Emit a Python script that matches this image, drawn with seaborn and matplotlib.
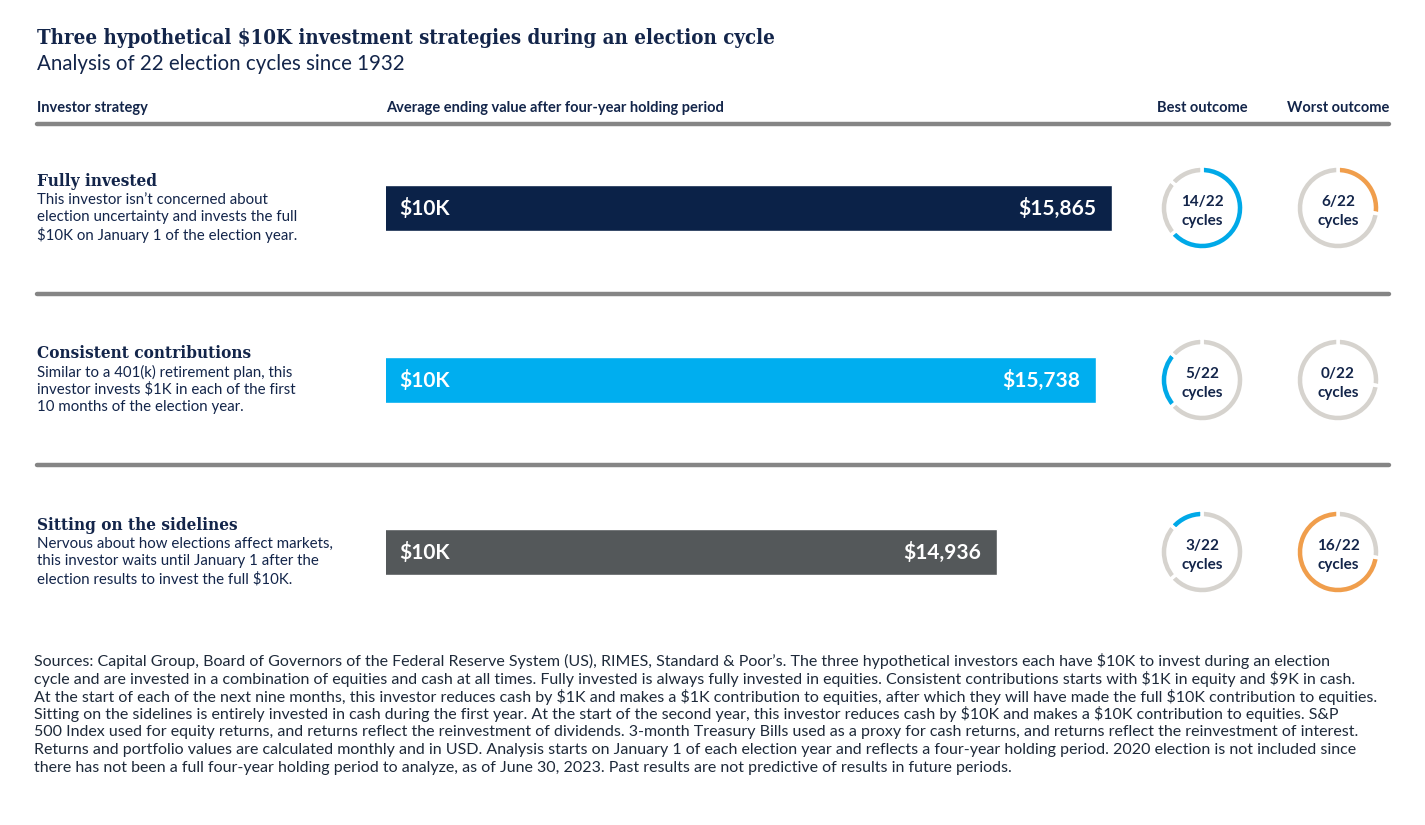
import matplotlib
matplotlib.use("Agg")
import matplotlib.pyplot as plt
import seaborn as sns
import pandas as pd

sns.set_theme(style="white")
plt.rcParams['text.parse_math'] = False
plt.rcParams['font.family'] = ['Lato', 'DejaVu Sans']

# data
strategies = ["Fully invested", "Consistent contributions", "Sitting on the sidelines"]
descriptions = [
    ["This investor isn’t concerned about", "election uncertainty and invests the full",
     "$10K on January 1 of the election year."],
    ["Similar to a 401(k) retirement plan, this", "investor invests $1K in each of the first",
     "10 months of the election year."],
    ["Nervous about how elections affect markets,", "this investor waits until January 1 after the",
     "election results to invest the full $10K."],
]
ending_values = [15865, 15738, 14936]
start_value = 10000
best_cycles = [14, 5, 3]
worst_cycles = [6, 0, 16]
total_cycles = 22

bar_colors = ["#0B2248", "#00AEEF", "#54585A"]
NAVY = "#13254A"
BLUE = "#00A9E8"
ORANGE = "#F09E4C"
RING = "#D6D3CE"
RULE = "#858585"

footnote = [
    "Sources: Capital Group, Board of Governors of the Federal Reserve System (US), RIMES, Standard & Poor’s. The three hypothetical investors each have $10K to invest during an election",
    "cycle and are invested in a combination of equities and cash at all times. Fully invested is always fully invested in equities. Consistent contributions starts with $1K in equity and $9K in cash.",
    "At the start of each of the next nine months, this investor reduces cash by $1K and makes a $1K contribution to equities, after which they will have made the full $10K contribution to equities.",
    "Sitting on the sidelines is entirely invested in cash during the first year. At the start of the second year, this investor reduces cash by $10K and makes a $10K contribution to equities. S&P",
    "500 Index used for equity returns, and returns reflect the reinvestment of dividends. 3-month Treasury Bills used as a proxy for cash returns, and returns reflect the reinvestment of interest.",
    "Returns and portfolio values are calculated monthly and in USD. Analysis starts on January 1 of each election year and reflects a four-year holding period. 2020 election is not included since",
    "there has not been a full four-year holding period to analyze, as of June 30, 2023. Past results are not predictive of results in future periods.",
]

W, H = 1425, 825
fig = plt.figure(figsize=(W / 100, H / 100), dpi=100)
fig.patch.set_facecolor("white")


def px_axes(x0, y0, x1, y1):
    # pixel box (top-left origin) -> figure axes
    return fig.add_axes([x0 / W, 1 - y1 / H, (x1 - x0) / W, (y1 - y0) / H])


bg = fig.add_axes([0, 0, 1, 1])
bg.set_xlim(0, W)
bg.set_ylim(H, 0)
bg.axis("off")

serif = dict(family="DejaVu Serif", fontstretch="condensed", fontweight="bold", color=NAVY)
bg.text(37, 38, "Three hypothetical $10K investment strategies during an election cycle",
        fontsize=14.7, va="center", ha="left", **serif)
bg.text(37, 64, "Analysis of 22 election cycles since 1932", fontsize=14.8, color=NAVY,
        va="center", ha="left")

hdr = dict(fontsize=10.5, fontweight="bold", color=NAVY, va="center")
bg.text(37, 108, "Investor strategy", ha="left", **hdr)
bg.text(386, 108, "Average ending value after four-year holding period", ha="left", **hdr)
bg.text(1202, 108, "Best outcome", ha="center", **hdr)
bg.text(1338, 108, "Worst outcome", ha="center", **hdr)

for y in [124, 294, 465]:
    bg.plot([37, 1389], [y, y], color=RULE, lw=3.2, solid_capstyle="round")

row_y = [208, 380, 552]
for i, (name, desc) in enumerate(zip(strategies, descriptions)):
    yc = row_y[i]
    bg.text(37, yc - 27, name, fontsize=12.3, va="center", ha="left", **serif)
    for j, line in enumerate(desc):
        bg.text(37, yc - 8 + j * 17.5, line, fontsize=10.8, color=NAVY, va="center", ha="left")

for k, line in enumerate(footnote):
    bg.text(34, 661 + k * 17.8, line, fontsize=11.5, color="#1E2A3A", va="center", ha="left")

# bars
x_left_px, x_right_px = 386, 1130
px_per_dollar = (1112 - 386) / (15865 - start_value)
bax = px_axes(x_left_px, row_y[0] - 86, x_right_px, row_y[2] + 86)
df = pd.DataFrame({"strategy": strategies, "value": ending_values})
sns.barplot(data=df, x="value", y="strategy", hue="strategy", palette=bar_colors,
            orient="h", width=0.265, legend=False, ax=bax, saturation=1)
bax.set_xlim(start_value, start_value + (x_right_px - x_left_px) / px_per_dollar)
bax.set_ylim(2.5, -0.5)
bax.axis("off")
for i, v in enumerate(ending_values):
    bax.text(start_value + 13 / px_per_dollar, i, "$10K", color="white", fontsize=15,
             fontweight="bold", va="center", ha="left")
    bax.text(v - 16 / px_per_dollar, i, f"${v:,}", color="white", fontsize=15,
             fontweight="bold", va="center", ha="right")

# donuts: each ring splits the 22 cycles among the three strategies,
# only the current strategy's share is coloured
r_px = 42
for i, yc in enumerate(row_y):
    for xc, counts, col in [(1202, best_cycles, BLUE), (1338, worst_cycles, ORANGE)]:
        dax = px_axes(xc - r_px, yc - r_px, xc + r_px, yc + r_px)
        seg_colors = [col if j == i else RING for j in range(len(counts))]
        dax.pie(counts, colors=seg_colors, startangle=90, counterclock=False,
                wedgeprops=dict(width=0.19, edgecolor="white", linewidth=2.5), radius=1)
        dax.set_xlim(-1, 1)
        dax.set_ylim(-1, 1)
        dax.set_aspect("equal")
        dax.text(0, 0.15, f"{counts[i]}/{total_cycles}", ha="center", va="center", fontsize=11,
                 fontweight="bold", color=NAVY)
        dax.text(0, -0.3, "cycles", ha="center", va="center", fontsize=11,
                 fontweight="bold", color=NAVY)

fig.savefig("out.png", dpi=100, facecolor="white")
